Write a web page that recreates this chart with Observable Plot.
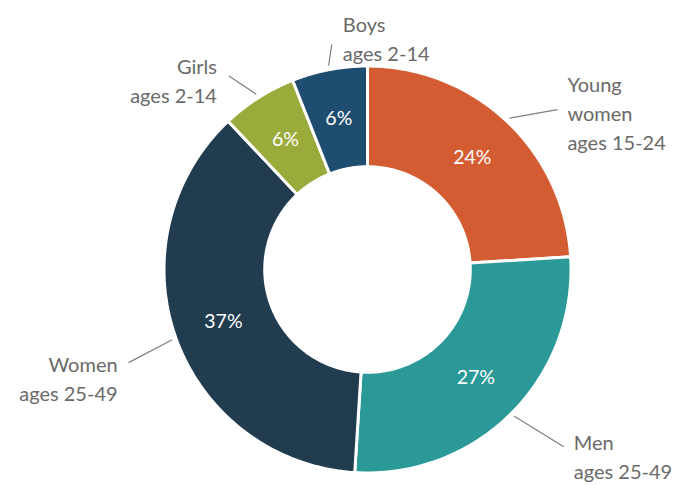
<!DOCTYPE html>
<html>
<head>
<meta charset="utf-8">
<script src="https://cdn.jsdelivr.net/npm/d3@7"></script>
<script src="https://cdn.jsdelivr.net/npm/@observablehq/plot@0.6"></script>
<style>
  html, body { margin: 0; padding: 0; background: #ffffff; }
  #chart { width: 676px; height: 485px; }
</style>
</head>
<body>
<div id="chart"></div>
<script>
// ---- data ----
const groups = ["Young women", "Men", "Women", "Girls", "Boys"];
const labelLines = ["Young\nwomen\nages 15-24", "Men\nages 25-49", "Women\nages 25-49", "Girls\nages 2-14", "Boys\nages 2-14"];
const shares = [24, 27, 37, 6, 6];
const colors = ["#d35c33", "#2a9998", "#213c4f", "#9bab3b", "#1f4d70"];

// ---- label layout (leader turn in degrees, leader end radius, text side, pixel offsets) ----
const labelLayout = [
  {turn: 6.7,  r2: 1.22, side: "start", dx: 10, dy: 2},
  {turn: -2.9, r2: 1.30, side: "start", dx: 10, dy: 8},
  {turn: -1.5, r2: 1.26, side: "end",   dx: -11, dy: 15},
  {turn: -3.2, r2: 1.17, side: "end",   dx: -12, dy: 3},
  {turn: 1.8,  r2: 1.12, side: "start", dx: 11, dy: -7}
];

const cx = 367, cy = 269, unit = 203.5;
const R_OUT = 1.0, R_IN = 0.505, R_LEAD = 1.02;
const rows = groups.map((g, i) => ({group: g, label: labelLines[i], share: shares[i], ...labelLayout[i]}));
const arcs = d3.pie().sort(null).value(d => d.share)(rows);

// polygon vertices of each ring slice (angle 0 at top, clockwise)
const pt = (a, r) => ({x: r * Math.sin(a), y: r * Math.cos(a)});
const slicePts = [];
for (const a of arcs) {
  const n = 80;
  for (let k = 0; k <= n; k++) {
    const t = a.startAngle + (a.endAngle - a.startAngle) * k / n;
    slicePts.push({group: a.data.group, ...pt(t, R_OUT)});
  }
  for (let k = n; k >= 0; k--) {
    const t = a.startAngle + (a.endAngle - a.startAngle) * k / n;
    slicePts.push({group: a.data.group, ...pt(t, R_IN)});
  }
}

const mids = arcs.map(a => {
  const m = (a.startAngle + a.endAngle) / 2;
  const d = a.data;
  const p = pt(m, (R_OUT + R_IN) / 2);
  const s = pt(m, R_LEAD);
  const e = pt(m + d.turn * Math.PI / 180, d.r2);
  return {...d, px: p.x, py: p.y, sx: s.x, sy: s.y, ex: e.x, ey: e.y,
          tx: e.x + d.dx / unit, ty: e.y - d.dy / unit};
});

const font = "Lato, 'Open Sans', sans-serif";
const labelOpts = {x: "tx", y: "ty", text: "label", lineHeight: 1.45, fontSize: 20, fill: "#6a6a6a", fontFamily: font};

const chart = Plot.plot({
  width: 676,
  height: 485,
  margin: 0,
  style: {background: "#ffffff", fontFamily: font},
  x: {domain: [-1, 1], range: [cx - unit, cx + unit], axis: null},
  y: {domain: [-1, 1], range: [cy + unit, cy - unit], axis: null},
  color: {domain: groups, range: colors},
  marks: [
    Plot.line(slicePts, {x: "x", y: "y", z: "group", fill: "group", stroke: "#ffffff", strokeWidth: 3, curve: "linear-closed"}),
    Plot.text(mids, {x: "px", y: "py", text: d => `${d.share}%`, fill: "#ffffff", fontSize: 19.5, fontFamily: font}),
    Plot.link(mids, {x1: "sx", y1: "sy", x2: "ex", y2: "ey", stroke: "#808080", strokeWidth: 1.2}),
    Plot.text(mids.filter(d => d.side === "start"), {...labelOpts, textAnchor: "start"}),
    Plot.text(mids.filter(d => d.side === "end"), {...labelOpts, textAnchor: "end"})
  ]
});
document.getElementById("chart").appendChild(chart);
</script>
</body>
</html>
